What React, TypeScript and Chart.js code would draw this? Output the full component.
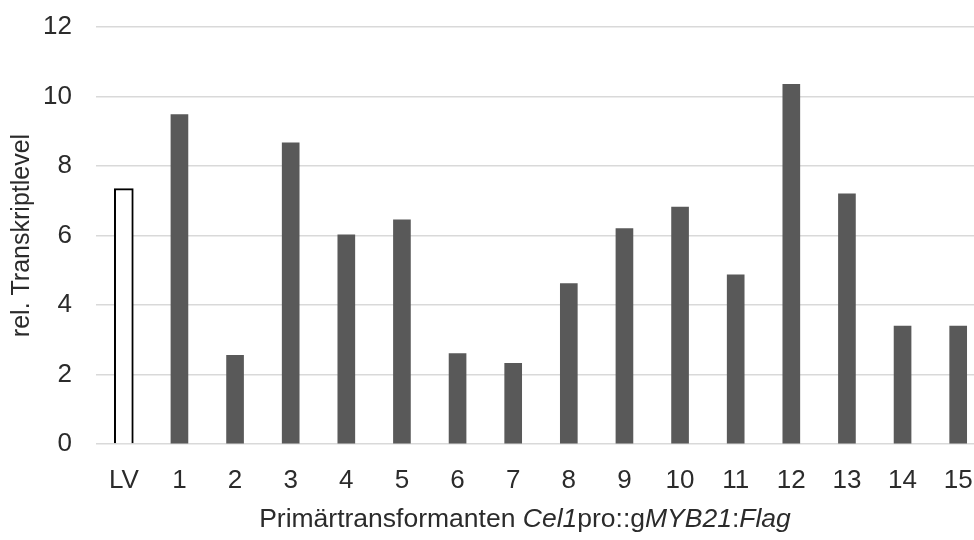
import React, { useEffect, useRef } from "react";
import { Chart, registerables } from "chart.js";

Chart.register(...registerables);

// ---- data ----
const categories = ["LV", "1", "2", "3", "4", "5", "6", "7", "8", "9", "10", "11", "12", "13", "14", "15"];
const values = [7.35, 9.48, 2.55, 8.67, 6.02, 6.45, 2.6, 2.32, 4.62, 6.2, 6.82, 4.87, 10.35, 7.2, 3.39, 3.39];
const controlCategory = "LV";
const yMin = 0;
const yMax = 12;
const yStep = 2;
const yTitle = "rel. Transkriptlevel";
const xTitleParts = [
  { text: "Primärtransformanten ", italic: false },
  { text: "Cel1", italic: true },
  { text: "pro::g", italic: false },
  { text: "MYB21", italic: true },
  { text: ":", italic: false },
  { text: "Flag", italic: true },
];

const FONT = '"Liberation Sans", Arial, Helvetica, sans-serif';
const TEXT = "#2b2b2b";

export default function App() {
  const ref = useRef<HTMLCanvasElement>(null);

  useEffect(() => {
    const canvas = ref.current;
    if (!canvas) return;

    const controlValues = values.map((v, i) => (categories[i] === controlCategory ? v : null));
    const sampleValues = values.map((v, i) => (categories[i] === controlCategory ? null : v));

    const xTitlePlugin = {
      id: "xTitleMixed",
      afterDraw(chart: any) {
        const ctx = chart.ctx as CanvasRenderingContext2D;
        const size = 26.5;
        ctx.save();
        ctx.fillStyle = TEXT;
        ctx.textBaseline = "alphabetic";
        ctx.textAlign = "left";
        let total = 0;
        const widths = xTitleParts.map((p) => {
          ctx.font = `${p.italic ? "italic " : ""}${size}px ${FONT}`;
          const w = ctx.measureText(p.text).width;
          total += w;
          return w;
        });
        let x = 525 - total / 2;
        const y = 527;
        xTitleParts.forEach((p, i) => {
          ctx.font = `${p.italic ? "italic " : ""}${size}px ${FONT}`;
          ctx.fillText(p.text, x, y);
          x += widths[i];
        });
        ctx.restore();
      },
    };

    const chart = new Chart(canvas, {
      type: "bar",
      data: {
        labels: categories,
        datasets: [
          {
            data: controlValues as any,
            backgroundColor: "#ffffff",
            borderColor: "#000000",
            borderWidth: 2,
            barThickness: 19,
            grouped: false,
          } as any,
          {
            data: sampleValues as any,
            backgroundColor: "#595959",
            borderWidth: 0,
            barThickness: 17,
            grouped: false,
          } as any,
        ],
      },
      options: {
        animation: false,
        responsive: false,
        devicePixelRatio: 1,
        layout: { padding: { top: 27, left: 0, right: 0, bottom: 0 }, autoPadding: false },
        plugins: {
          legend: { display: false },
          tooltip: { enabled: false },
          title: { display: false },
        },
        scales: {
          x: {
            offset: true,
            grid: { display: false },
            border: { display: false },
            ticks: {
              color: TEXT,
              font: { family: FONT, size: 26 },
              padding: 13,
              autoSkip: false,
              maxRotation: 0,
            },
            afterFit(scale: any) {
              scale.height = 96;
              scale.paddingLeft = 0;
              scale.paddingRight = 0;
            },
          },
          y: {
            min: yMin,
            max: yMax,
            grid: { color: "#d9d9d9", lineWidth: 1.5, drawTicks: false },
            border: { display: false },
            ticks: {
              stepSize: yStep,
              color: TEXT,
              font: { family: FONT, size: 26 },
              padding: 24,
            },
            title: {
              display: true,
              text: yTitle,
              color: TEXT,
              font: { family: FONT, size: 25 },
              padding: { top: 7, bottom: 0 },
            },
            afterFit(scale: any) {
              scale.width = 96;
              scale.paddingTop = 0;
              scale.paddingBottom = 0;
            },
          },
        },
      },
      plugins: [xTitlePlugin],
    });

    return () => chart.destroy();
  }, []);

  return (
    <div
      style={{
        position: "fixed",
        left: 0,
        top: 0,
        width: 974,
        height: 540,
        overflow: "hidden",
        background: "#ffffff",
      }}
    >
      <canvas ref={ref} width={986} height={540} style={{ display: "block", width: 986, height: 540 }} />
    </div>
  );
}
